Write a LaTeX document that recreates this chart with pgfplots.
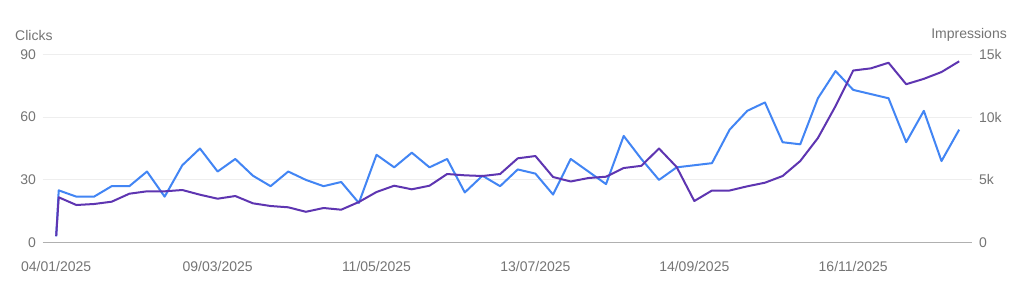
\documentclass[border=0pt]{standalone}
\usepackage{fontspec}
\setmainfont{Liberation Sans}
\usepackage{pgfplots}
\usepackage{pgfplotstable}
\pgfplotsset{compat=1.18}
\definecolor{clickblue}{HTML}{4285F4}
\definecolor{imprpurple}{HTML}{5E35B1}
\definecolor{gridgray}{HTML}{EEEEEE}
\definecolor{basegray}{HTML}{B0B0B0}
\definecolor{labelgray}{HTML}{757575}
\pgfplotstableread{
day clicks impr
0 3 533
1 25 3614
8 22 3001
15 22 3081
22 27 3264
29 27 3900
36 34 4091
43 22 4091
50 37 4195
57 45 3821
64 34 3502
71 40 3717
78 32 3136
85 27 2921
92 34 2818
99 30 2460
106 27 2762
113 29 2627
120 19 3240
127 42 4036
134 36 4537
141 43 4251
148 36 4537
155 40 5469
162 24 5365
169 32 5309
176 27 5469
183 35 6718
190 33 6901
197 23 5230
204 40 4872
211 34 5150
218 28 5254
225 51 5946
232 40 6121
239 30 7498
246 36 6026
253 37 3319
260 38 4155
267 54 4155
274 63 4489
281 67 4776
288 48 5309
295 47 6503
302 69 8334
309 82 10881
316 73 13707
323 71 13882
330 69 14328
337 48 12617
344 63 13046
351 39 13588
358 54 14439
}\datatable
\begin{document}
\begin{tikzpicture}[x=1pt,y=1pt]
\useasboundingbox[fill=white] (0,0) rectangle (1024,297);
\pgfplotsset{
  common/.style={
    at={(43pt,54.3pt)}, anchor=south west,
    width=929pt, height=188.4pt, scale only axis,
    xmin=-5.23, xmax=363.1,
    major tick length=0pt,
    tick label style={text=labelgray, font=\fontsize{14}{16}\selectfont},
    /pgf/number format/assume math mode=true,
    scaled y ticks=false,
  }
}
\begin{axis}[common,
  ymin=0, ymax=90,
  ytick={0,30,60,90},
  xtick={0,64,127,190,253,316},
  xticklabels={04/01/2025,09/03/2025,11/05/2025,13/07/2025,14/09/2025,16/11/2025},
  axis x line*=bottom, axis y line*=left,
  y axis line style={draw=none},
  x axis line style={draw=basegray, line width=1.3pt, -},
  ymajorgrids, grid style={draw=gridgray, line width=1pt},
  yticklabel style={xshift=-3.5pt},
  xticklabel style={yshift=-15pt},
]
\addplot[clickblue, line width=2pt, line join=round, no marks] table[x=day, y=clicks] {\datatable};
\end{axis}
\begin{axis}[common,
  ymin=0, ymax=15000,
  ytick={0,5000,10000,15000},
  yticklabels={0,5k,10k,15k},
  axis y line*=right, axis x line=none,
  y axis line style={draw=none},
  yticklabel style={xshift=3.5pt},
]
\addplot[imprpurple, line width=2pt, line join=round, no marks] table[x=day, y=impr] {\datatable};
\end{axis}
\node[anchor=west, text=labelgray, font=\fontsize{14}{16}\selectfont, inner sep=0pt] at (15,262) {Clicks};
\node[anchor=east, text=labelgray, font=\fontsize{14}{16}\selectfont, inner sep=0pt] at (1007,262) {Impressions};
\end{tikzpicture}
\end{document}
